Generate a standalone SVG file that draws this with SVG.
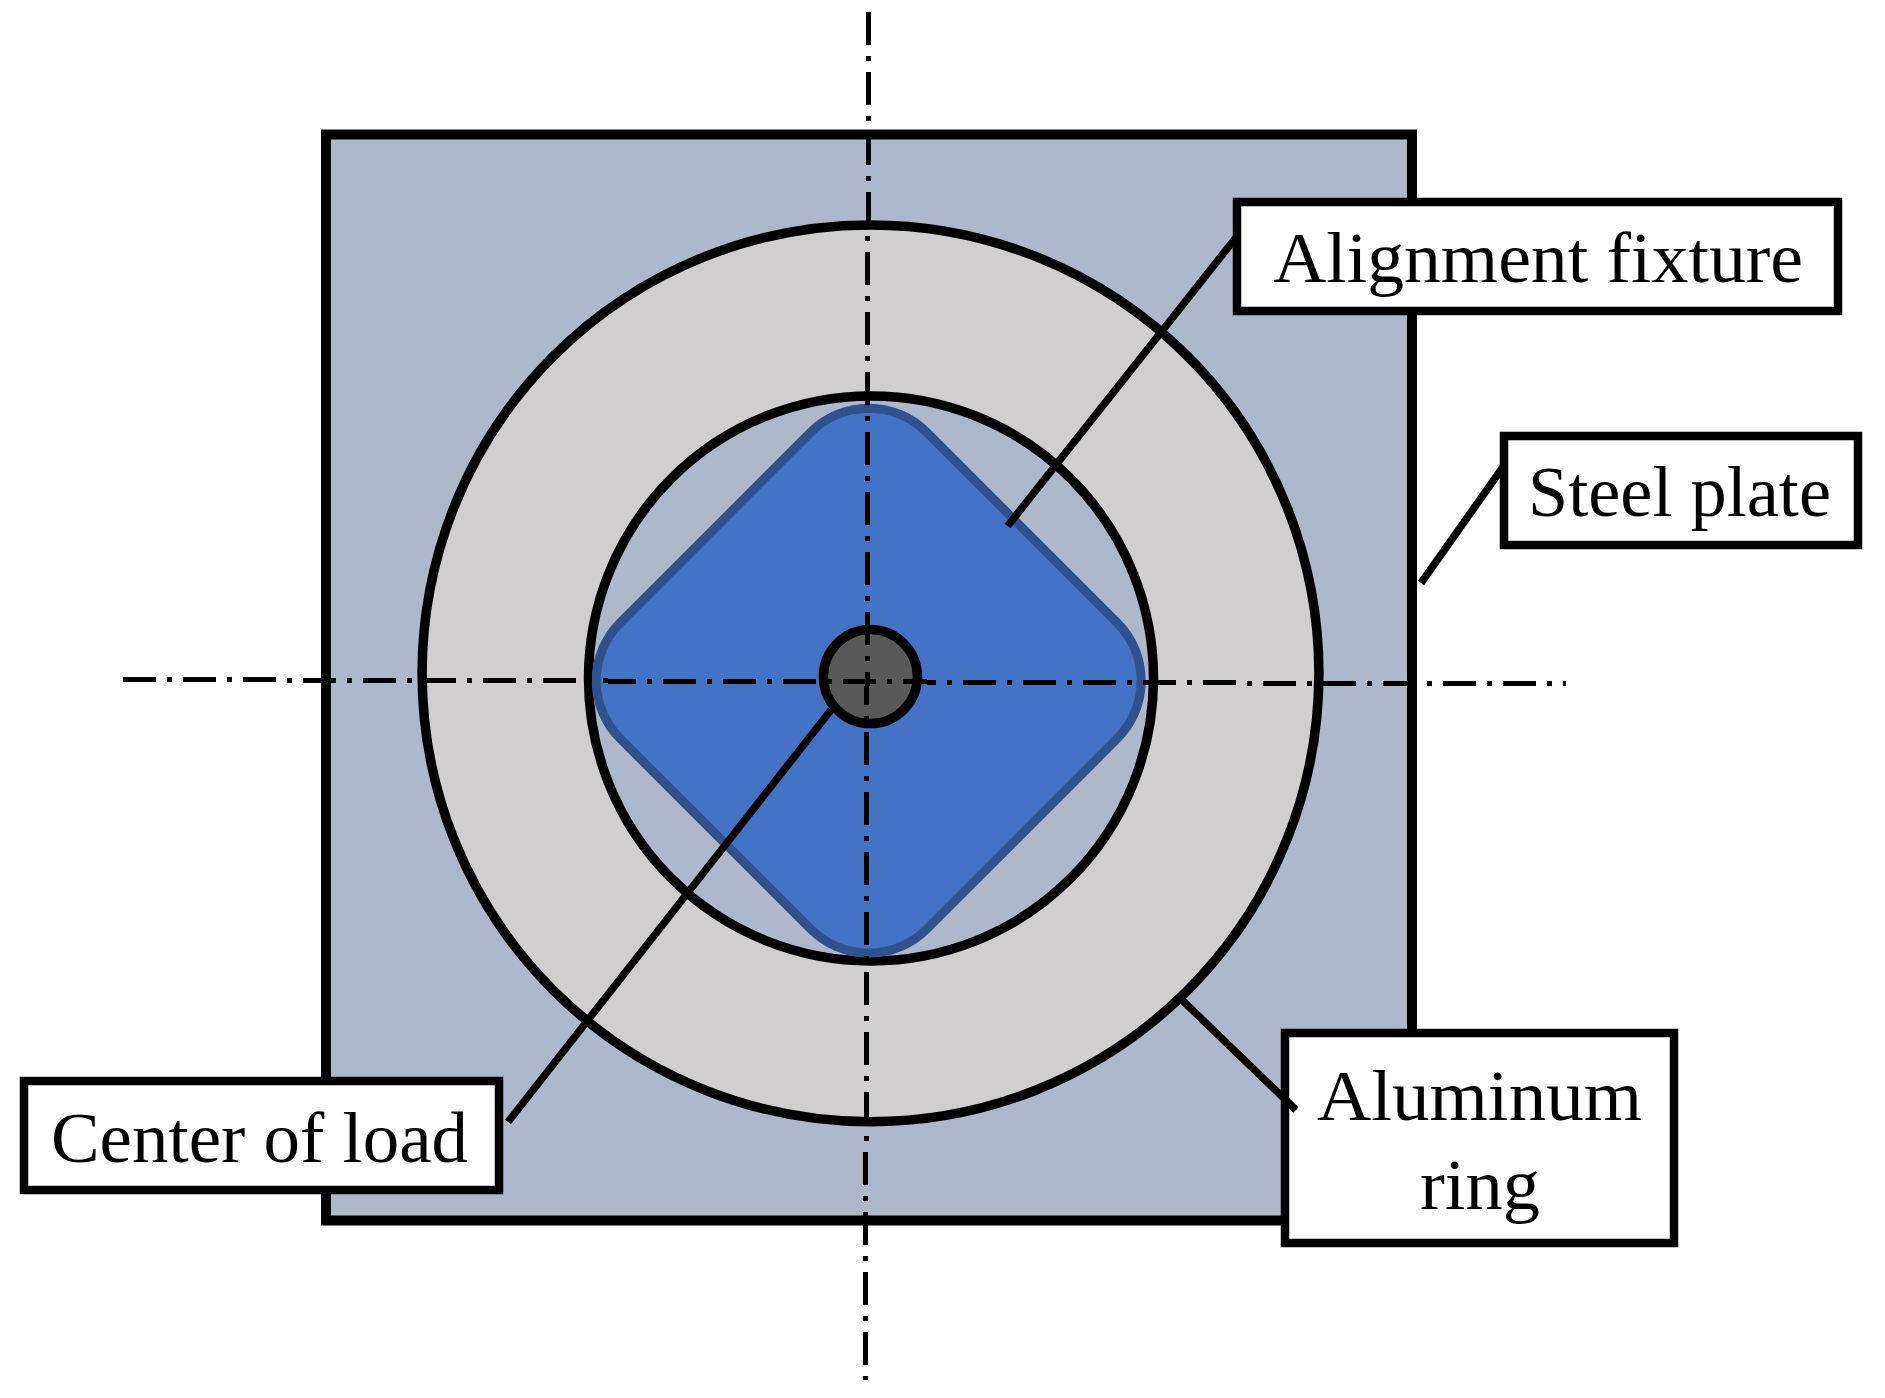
<svg xmlns="http://www.w3.org/2000/svg" width="1885" height="1398" viewBox="0 0 1885 1398">
<style>
.box{fill:#fff;stroke:#000;stroke-width:8.5}
.axis{fill:none;stroke:#000;stroke-width:5;stroke-dasharray:33 11 5 11;shape-rendering:crispEdges}
.lead{stroke:#000;stroke-width:7.5;fill:none}
text{font-family:"Liberation Serif","Times New Roman",serif;font-size:71px;fill:#000}
</style>
<rect width="1885" height="1398" fill="#fff"/>
<g id="steel-plate"><rect x="326" y="134.5" width="1086" height="1086" fill="#adb9ca" stroke="#000" stroke-width="10"/></g>
<g id="aluminum-ring"><circle cx="870.5" cy="673.3" r="448.4" fill="#d0cece" stroke="#000" stroke-width="9.5"/></g>
<g id="ring-bore"><circle cx="871" cy="678.4" r="282.5" fill="#adb9ca" stroke="#000" stroke-width="9.5"/></g>
<g id="alignment-fixture"><rect x="-216.7" y="-216.7" width="433.4" height="433.4" rx="82" ry="82" transform="translate(868.7 680.7) rotate(45)" fill="#4472c4" stroke="#2f528f" stroke-width="9"/></g>
<g id="center-of-load"><circle cx="870.4" cy="676.6" r="47" fill="#595959" stroke="#000" stroke-width="9.5"/></g>
<g id="axes">
<path class="axis" d="M868.5 12L865.5 1380"/>
<path class="axis" d="M123 679.5L1566 684"/>
</g>
<g id="label-alignment-fixture"><rect class="box" x="1237" y="202" width="601" height="109"/><text x="1273" y="282" textLength="530" lengthAdjust="spacingAndGlyphs">Alignment fixture</text></g>
<g id="label-steel-plate"><rect class="box" x="1504" y="436" width="354" height="109"/><text x="1528" y="516" textLength="303" lengthAdjust="spacingAndGlyphs">Steel plate</text></g>
<g id="label-center-of-load"><rect class="box" x="24" y="1081" width="475" height="109"/><text x="51" y="1162" textLength="417" lengthAdjust="spacingAndGlyphs">Center of load</text></g>
<g id="label-aluminum-ring"><rect class="box" x="1285" y="1033" width="389" height="210"/><text x="1317" y="1120" textLength="325" lengthAdjust="spacingAndGlyphs">Aluminum</text><text x="1420" y="1209" textLength="120" lengthAdjust="spacingAndGlyphs">ring</text></g>
<g id="connectors">
<path class="lead" d="M1007.6 526L1238 235"/>
<path class="lead" d="M1421 583L1503 467"/>
<path class="lead" d="M831 710L508 1122"/>
<path class="lead" d="M1182 1000L1296 1110"/>
</g>
</svg>
